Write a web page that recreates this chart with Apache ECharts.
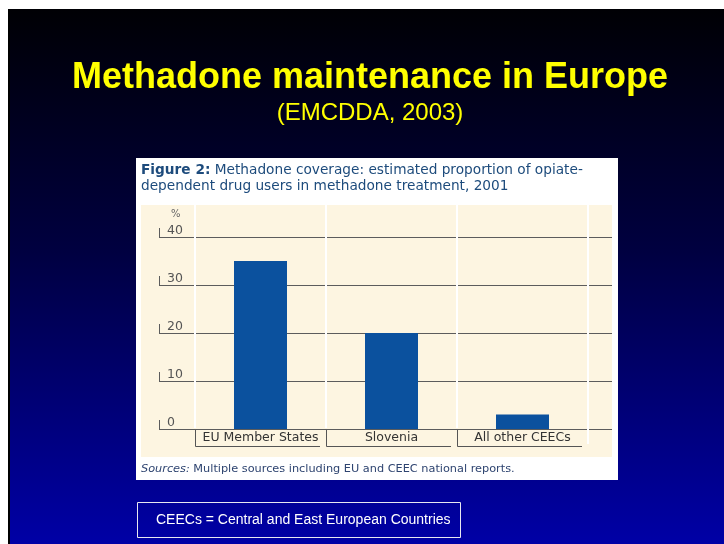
<!DOCTYPE html>
<html>
<head>
<meta charset="utf-8">
<script src="https://cdn.jsdelivr.net/npm/echarts@6/dist/echarts.min.js"></script>
<style>
  html, body { margin: 0; padding: 0; background: #ffffff; }
  #chart { width: 724px; height: 544px; }
</style>
</head>
<body>
<div id="chart"></div>
<script>
// Methadone coverage, 2001 (% of opiate-dependent drug users in treatment)
const categories = ['EU Member States', 'Slovenia', 'All other CEECs'];
const coverage = [35, 20, 3];
const yTicks = [0, 10, 20, 30, 40];
const yMin = 0, yMax = 40, yStep = 10;

const figFont = '"DejaVu Sans", sans-serif';
const slideFont = '"Liberation Sans", Arial, sans-serif';

const chart = echarts.init(document.getElementById('chart'), null, { renderer: 'canvas' });

const option = {
  animation: false,
  graphic: [
    // slide background
    { type: 'rect', z: -20, shape: { x: 8, y: 9, width: 716, height: 535 },
      style: { fill: new echarts.graphic.LinearGradient(0, 0, 0, 1, [
        { offset: 0, color: '#000004' },
        { offset: 0.45, color: '#000040' },
        { offset: 1, color: '#0000a6' }
      ]) } },
    { type: 'rect', z: -19, shape: { x: 8, y: 9, width: 2, height: 535 }, style: { fill: '#000000' } },
    // figure panel
    { type: 'rect', z: -18, shape: { x: 136, y: 158, width: 482, height: 322 }, style: { fill: '#ffffff' } },
    { type: 'rect', z: -17, shape: { x: 141, y: 205, width: 471, height: 252 }, style: { fill: '#fdf5e1' } },
    // slide headings
    { type: 'text', z: 50, x: 370, y: 78,
      style: { text: 'Methadone maintenance in Europe', fill: '#ffff00',
        font: 'bold 36px ' + slideFont, align: 'center', verticalAlign: 'middle',
        textShadowColor: 'rgba(40,40,40,0.9)', textShadowOffsetX: 2, textShadowOffsetY: 2 } },
    { type: 'text', z: 50, x: 370, y: 113,
      style: { text: '(EMCDDA, 2003)', fill: '#ffff00',
        font: '24px ' + slideFont, align: 'center', verticalAlign: 'middle' } },
    // figure caption
    { type: 'text', z: 50, x: 141, y: 162,
      style: {
        text: '{b|Figure 2:} {n|Methadone coverage: estimated proportion of opiate-}\n{n|dependent drug users in methadone treatment, 2001}',
        rich: {
          b: { fontWeight: 'bold', fontSize: 13.7, fontFamily: figFont, fill: '#1d4b7c', lineHeight: 16 },
          n: { fontSize: 13.7, fontFamily: figFont, fill: '#1d4b7c', lineHeight: 16 }
        },
        fill: '#1d4b7c', font: '13.7px ' + figFont
      } },
    // sources line
    { type: 'text', z: 50, x: 141, y: 469,
      style: {
        text: '{i|Sources:} {n|Multiple sources including EU and CEEC national reports.}',
        rich: {
          i: { fontStyle: 'italic', fontSize: 11.3, fontFamily: figFont, fill: '#2e4470' },
          n: { fontSize: 11.3, fontFamily: figFont, fill: '#2e4470' }
        },
        fill: '#2e4470', font: '11.3px ' + figFont, verticalAlign: 'middle'
      } },
    // footnote box
    { type: 'rect', z: 50, shape: { x: 137.5, y: 502.5, width: 323, height: 35 },
      style: { fill: null, stroke: '#e8e8f0', lineWidth: 1 } },
    { type: 'text', z: 50, x: 156, y: 520,
      style: { text: 'CEECs = Central and East European Countries', fill: '#ffffff',
        font: '14px ' + slideFont, verticalAlign: 'middle' } }
  ],
  grid: [
    { left: 159, right: 112, top: 237, bottom: 115 },
    { left: 195, right: 136, top: 237, bottom: 115 }
  ],
  xAxis: [
    { gridIndex: 0, type: 'value', min: 0, max: 1, show: false },
    { gridIndex: 1, type: 'category', data: categories,
      axisLine: { show: false }, axisTick: { show: false }, splitLine: { show: false },
      axisLabel: { interval: 0, margin: 2, color: '#333333', fontSize: 12.5, fontFamily: figFont } }
  ],
  yAxis: [
    { gridIndex: 0, type: 'value', min: yMin, max: yMax, interval: yStep,
      name: '%', nameLocation: 'end', nameGap: 18,
      nameTextStyle: { color: '#666666', fontSize: 10, fontFamily: figFont, align: 'left', padding: [0, 0, 0, 12] },
      axisLine: { show: false }, axisTick: { show: false },
      axisLabel: { inside: true, margin: 8, verticalAlign: 'bottom', color: '#555555', fontSize: 12.5, fontFamily: figFont },
      splitLine: { lineStyle: { color: '#5c5c5c', width: 1 } } },
    { gridIndex: 1, type: 'value', min: yMin, max: yMax, interval: yStep, show: false }
  ],
  series: [
    // small vertical tick beside each y label
    { type: 'custom', xAxisIndex: 0, yAxisIndex: 0, clip: false, silent: true,
      data: yTicks.map(v => [0, v]),
      renderItem: function (params, api) {
        const p = api.coord([0, api.value(1)]);
        const x = Math.round(p[0]) + 0.5;
        return { type: 'line', shape: { x1: x, y1: p[1] - 9, x2: x, y2: p[1] },
          style: { stroke: '#5c5c5c', lineWidth: 1 } };
      } },
    // column separators and label frames
    { type: 'custom', xAxisIndex: 1, yAxisIndex: 1, clip: false, silent: true, z: 3,
      data: categories.map((c, i) => [i]),
      renderItem: function (params, api) {
        const i = api.value(0);
        const p = api.coord([i, 0]);
        const band = api.size([1, 0])[0];
        const left = p[0] - band / 2;
        const y0 = p[1];
        const yTop = api.coord([i, yMax])[1] - 32;
        const children = [
          { type: 'line', shape: { x1: left, y1: yTop, x2: left, y2: y0 - 1 },
            style: { stroke: '#ffffff', lineWidth: 2 } },
          { type: 'polyline', shape: { points: [[Math.round(left) + 0.5, y0 + 1], [Math.round(left) + 0.5, y0 + 17.5], [left + band - 6, y0 + 17.5]] },
            style: { stroke: '#555555', fill: null, lineWidth: 1 } }
        ];
        if (i === categories.length - 1) {
          children.push({ type: 'line', shape: { x1: left + band, y1: yTop, x2: left + band, y2: y0 + 15 },
            style: { stroke: '#ffffff', lineWidth: 2 } });
        }
        return { type: 'group', children: children };
      } },
    { type: 'bar', xAxisIndex: 1, yAxisIndex: 1, data: coverage, barWidth: 53, z: 4,
      itemStyle: { color: '#0b519e' } }
  ]
};

chart.setOption(option);
</script>
</body>
</html>
